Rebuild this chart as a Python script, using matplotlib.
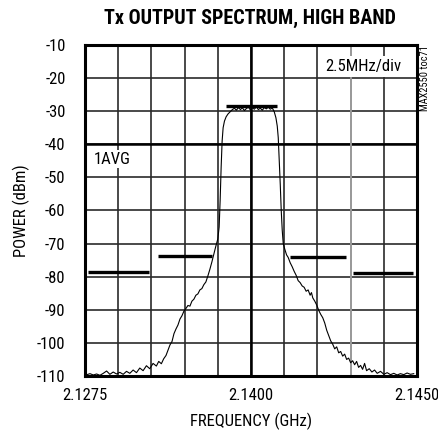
import matplotlib
matplotlib.use('Agg')
import matplotlib.pyplot as plt
import numpy as np

plt.rcParams['font.family'] = ['Roboto Condensed', 'Liberation Sans', 'DejaVu Sans']

# x is in screen divisions (0..10), y in dBm
x_tick_pos = [0, 5, 10]
x_tick_labels = ['2.1275', '2.1400', '2.1450']
y_ticks = [-110, -100, -90, -80, -70, -60, -50, -40, -30, -20, -10]

# spectrum trace
trace_x = [0.06, 0.15, 0.25, 0.35, 0.45, 0.55, 0.65, 0.75, 0.85, 0.95,
           1.05, 1.15, 1.25, 1.35, 1.45, 1.55, 1.65, 1.75, 1.85, 1.95,
           2.05, 2.15, 2.22, 2.30, 2.37, 2.44, 2.50, 2.56, 2.62, 2.68,
           2.74, 2.80, 2.86, 2.92, 2.98, 3.04, 3.10, 3.16, 3.22, 3.28,
           3.34, 3.40, 3.46, 3.52, 3.58, 3.64, 3.70, 3.76, 3.82, 3.88,
           3.94, 4.00, 4.04, 4.07, 4.10, 4.13, 4.16, 4.20, 4.25, 4.31,
           4.37, 4.44, 4.50, 4.56, 4.62, 4.68, 4.74, 4.80, 4.86, 4.92,
           4.98, 5.04, 5.10, 5.16, 5.22, 5.28, 5.34, 5.40, 5.46, 5.52,
           5.58, 5.64, 5.70, 5.75, 5.79, 5.82, 5.85, 5.88, 5.91, 5.94,
           5.97, 6.02, 6.07, 6.12, 6.18, 6.24, 6.30, 6.36, 6.42, 6.48,
           6.54, 6.60, 6.66, 6.72, 6.78, 6.82, 6.86, 6.92, 6.98, 7.04,
           7.10, 7.16, 7.22, 7.28, 7.34, 7.40, 7.46, 7.52, 7.58, 7.64,
           7.70, 7.76, 7.82, 7.88, 7.94, 8.00, 8.06, 8.12, 8.18, 8.24,
           8.30, 8.36, 8.42, 8.48, 8.56, 8.64, 8.72, 8.80, 8.90, 9.00,
           9.10, 9.20, 9.30, 9.40, 9.50, 9.60, 9.70, 9.80, 9.90]
trace_y = [-109.6, -109.3, -109.7, -109.4, -109.8, -109.2, -108.5, -109.5, -108.8, -109.4,
           -108.9, -109.5, -108.6, -109.2, -108.2, -109.0, -107.6, -108.4, -106.9, -107.8,
           -106.2, -107.0, -105.6, -106.3, -104.8, -103.8, -102.2, -100.6, -99.6, -97.2,
           -95.8, -94.6, -92.8, -91.8, -90.4, -89.6, -88.7, -88.9, -87.4, -86.8,
           -85.6, -85.2, -84.0, -83.6, -82.4, -81.6, -79.8, -77.8, -75.6, -73.2,
           -70.8, -68.6, -65.0, -57.0, -47.0, -39.0, -35.0, -33.0, -31.7, -30.8,
           -30.2, -29.5, -29.1, -29.7, -28.9, -29.5, -29.0, -29.8, -29.2, -28.8,
           -29.6, -29.0, -29.4, -28.7, -29.5, -29.1, -29.7, -28.9, -29.3, -28.8,
           -29.4, -29.0, -30.2, -32.0, -34.5, -38.0, -45.0, -52.0, -60.0, -66.0,
           -70.0, -71.8, -73.4, -74.2, -75.8, -77.0, -78.4, -79.6, -81.2, -81.8,
           -82.8, -83.2, -84.4, -84.0, -85.6, -84.8, -86.4, -87.4, -88.6, -90.2,
           -91.4, -92.4, -94.0, -96.2, -97.8, -99.4, -100.4, -101.8, -101.2, -103.0,
           -102.6, -104.0, -103.4, -105.0, -104.6, -106.0, -105.4, -106.6, -105.6, -107.4,
           -106.8, -108.0, -106.2, -108.4, -107.8, -108.8, -108.2, -109.2, -108.6, -109.5,
           -109.0, -109.6, -109.2, -109.7, -109.3, -109.6, -109.1, -109.5, -109.3]

# spectral mask limit lines
mask_start = [0.09, 2.2, 4.25, 6.17, 8.07]
mask_end = [1.93, 3.83, 5.78, 7.86, 9.88]
mask_level = [-78.7, -73.8, -28.4, -74.0, -78.9]

fig = plt.figure(figsize=(4.39, 4.38), dpi=100)
ax = fig.add_axes([0.1936, 0.1416, 0.7564, 0.7557])
ax.set_xlim(0, 10)
ax.set_ylim(-110, -10)

ax.set_xticks(range(11))
ax.set_xticklabels(['' if i not in x_tick_pos else x_tick_labels[x_tick_pos.index(i)]
                    for i in range(11)])
ax.set_yticks(y_ticks)
ax.set_yticklabels([str(v) for v in y_ticks])
ax.tick_params(length=0, labelsize=12, pad=9)
ax.tick_params(axis='y', pad=14)

ax.grid(True, color='#2a2a2a', linewidth=1.2)
ax.axvline(5, color='black', linewidth=1.8)
ax.axhline(-40, color='black', linewidth=1.8)
ax.axvline(8, color='#aaaaaa', linewidth=1.2)
for s in ax.spines.values():
    s.set_linewidth(2.2)

ax.hlines(mask_level, mask_start, mask_end, color='black', linewidth=2.4, zorder=4)
ax.plot(trace_x, trace_y, color='black', linewidth=0.8, zorder=5)

ax.text(7.25, -16.5, '2.5MHz/div', fontsize=12, ha='left', va='center', zorder=6,
        bbox=dict(facecolor='white', edgecolor='none', pad=2))
ax.text(0.25, -44.5, '1AVG', fontsize=12, ha='left', va='center', zorder=6,
        bbox=dict(facecolor='white', edgecolor='none', pad=1))

fig.text(0.967, 0.897, 'MAX2550 toc71', fontsize=7.5, rotation=90, ha='center', va='top')
fig.suptitle('Tx OUTPUT SPECTRUM, HIGH BAND', x=0.570, y=0.98, fontsize=14.5,
             fontweight='heavy')
ax.set_xlabel('FREQUENCY (GHz)', fontsize=12, labelpad=7)
ax.set_ylabel('POWER (dBm)', fontsize=12, labelpad=5)

fig.savefig('out.png', dpi=100)
